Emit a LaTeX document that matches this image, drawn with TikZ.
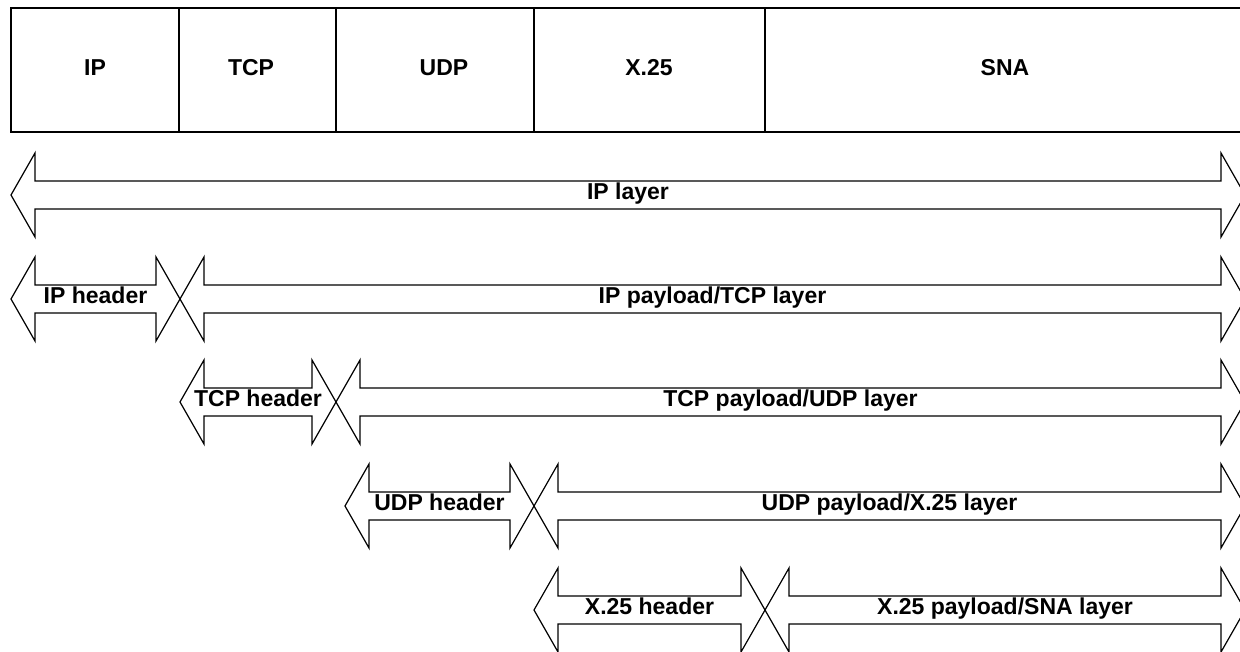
\documentclass[tikz,border=0pt]{standalone}
\usepackage{fontspec}
\setmainfont{Liberation Sans}
\usetikzlibrary{positioning}

% double arrow outline: left x, right x, middle y
\newcommand{\dblarrow}[3]{%
  \draw[arrowline] (#1,#3) -- ++(24,-42) -- ++(0,28) -- (#2-24,#3-14) -- ++(0,-28)
    -- (#2,#3) -- ++(-24,42) -- ++(0,-28) -- (#1+24,#3+14) -- ++(0,28) -- cycle;
}

\begin{document}
\begin{tikzpicture}
  [x=0.5pt,y=-0.5pt,
   arrowline/.style={line width=0.6pt,line join=miter},
   cellline/.style={line width=0.9pt},
   every node/.style={font=\fontsize{11.5}{13}\selectfont\bfseries,inner sep=0pt,anchor=base}]
  \useasboundingbox (0,0) rectangle (1240,652);

  % protocol cells on top
  \draw[cellline] (11,8) rectangle (1260,132);
  \foreach \x in {179,336,534,765}
    \draw[cellline] (\x,8) -- (\x,132);
  \foreach \x/\nm/\txt in {95/ip/IP,251/tcp/TCP,444/udp/UDP,649/xtf/X.25,1005/sna/SNA}
    \node (\nm) at (\x,76) {\txt};

  % layers
  \foreach \a/\b/\y/\nm/\txt in {
      11/1245/195/iplayer/{IP layer},
      11/180/299/iphdr/{IP header},
      180/1245/299/ippay/{IP payload/TCP layer},
      180/336/402/tcphdr/{TCP header},
      336/1245/402/tcppay/{TCP payload/UDP layer},
      345/534/506/udphdr/{UDP header},
      534/1245/506/udppay/{UDP payload/X.25 layer},
      534/765/610/xtfhdr/{X.25 header},
      765/1245/610/xtfpay/{X.25 payload/SNA layer}}
  {
    \dblarrow{\a}{\b}{\y}
    \node (\nm) at ({(\a+\b)/2},\y+4) {\txt};
  }
\end{tikzpicture}
\end{document}
